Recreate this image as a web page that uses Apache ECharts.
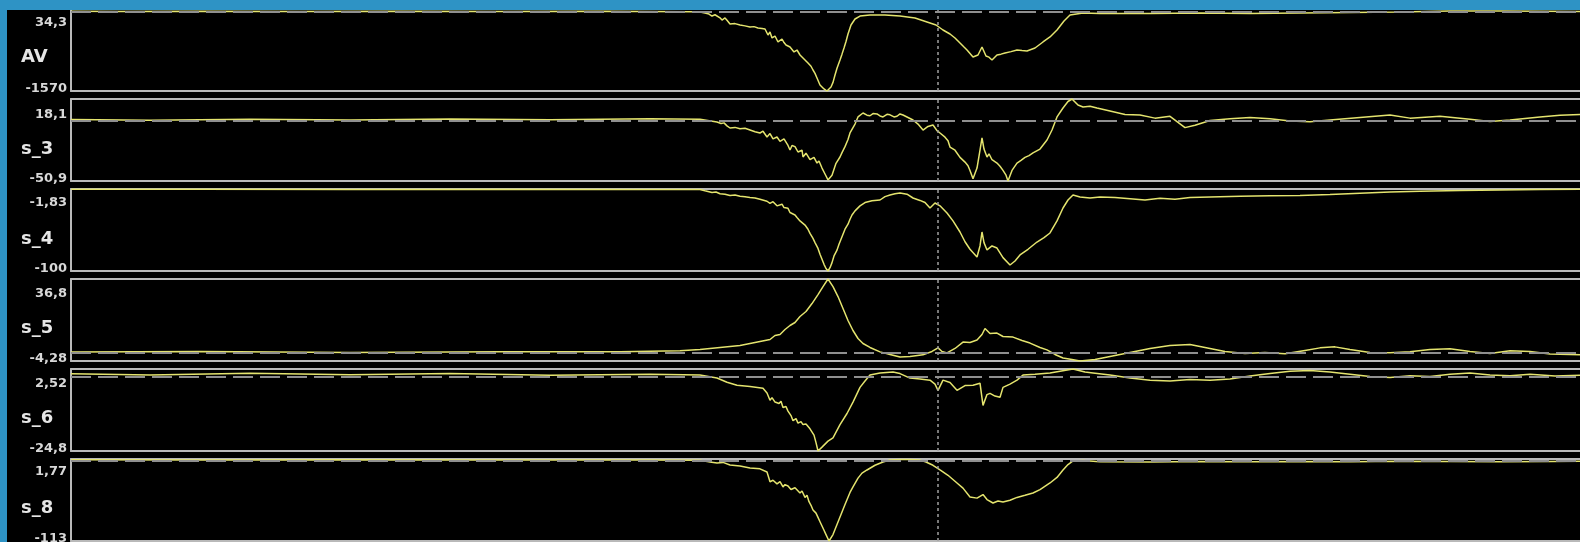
<!DOCTYPE html>
<html>
<head>
<meta charset="utf-8">
<script src="https://cdn.jsdelivr.net/npm/echarts@6/dist/echarts.min.js"></script>
<style>
  html, body { margin: 0; padding: 0; width: 1580px; height: 542px; overflow: hidden; background: #2e93c5; }
  #chart { position: absolute; left: 7px; top: 10px; width: 1573px; height: 532px; }
</style>
</head>
<body>
<div id="chart"></div>
<script>
// Channel names and the scale limits shown beside each strip
const channelNames = ['AV', 's_3', 's_4', 's_5', 's_6', 's_8'];
const maxTickLabels = ['34,3', '18,1', '-1,83', '36,8', '2,52', '1,77'];
const minTickLabels = ['-1570', '-50,9', '-100', '-4,28', '-24,8', '-113'];
const maxValues = [34.3, 18.1, -1.83, 36.8, 2.52, 1.77];
const minValues = [-1570, -50.9, -100, -4.28, -24.8, -113];

// Recording length (samples) and cursor position
const sampleCount = 1509;
const cursorSample = 867;

// Recorded traces: [sample, value]
const avData = [[0,8],[49,5],[129,10],[229,6],[329,12],[429,4],[529,9],[619,2],[629,-5],[634,-25],[638,-45],[641,-85],[644,-60],[646,-65],[649,-120],[651,-164],[654,-124],[656,-170],[659,-243],[664,-235],[669,-263],[674,-280],[679,-302],[683,-295],[687,-322],[691,-330],[694,-342],[697,-461],[699,-401],[701,-520],[704,-481],[707,-599],[709,-560],[711,-540],[713,-610],[715,-659],[717,-640],[719,-698],[721,-720],[723,-797],[726,-758],[729,-857],[732,-916],[734,-900],[737,-1015],[740,-1080],[742,-1154],[744,-1220],[746,-1312],[749,-1451],[751,-1490],[753,-1530],[756,-1570],[758,-1540],[760,-1491],[762,-1400],[764,-1253],[766,-1120],[769,-956],[771,-840],[773,-718],[775,-590],[777,-441],[780,-263],[784,-144],[789,-85],[799,-65],[814,-65],[829,-85],[844,-124],[859,-223],[865,-263],[872,-362],[879,-441],[884,-520],[889,-619],[893,-700],[896,-758],[902,-896],[907,-857],[911,-698],[915,-876],[918,-900],[921,-956],[926,-857],[930,-840],[934,-817],[940,-790],[946,-758],[951,-770],[956,-778],[964,-718],[972,-599],[979,-500],[986,-362],[993,-183],[999,-65],[1012,-25],[1029,-35],[1079,-35],[1129,-25],[1179,-35],[1229,-25],[1279,-15],[1329,-5],[1379,15],[1429,15],[1509,5]];

const s3Data = [[0,0.8],[79,0.3],[179,1.0],[279,0.5],[379,1.2],[479,0.6],[579,1.5],[629,1.0],[646,-1.3],[650,-2.5],[653,-2.0],[656,-4.5],[659,-6.3],[664,-5.8],[669,-7.0],[674,-6.5],[679,-8.0],[684,-9.5],[689,-10.5],[692,-9.0],[696,-13.9],[699,-11.0],[702,-15.5],[706,-13.9],[709,-17.5],[711,-18.0],[713,-15.5],[715,-16.0],[717,-21.0],[719,-24.8],[721,-21.0],[724,-22.0],[727,-26.5],[729,-28.0],[731,-25.0],[732,-30.7],[735,-27.5],[737,-29.0],[739,-33.0],[741,-33.5],[743,-31.0],[746,-35.8],[748,-34.0],[751,-40.0],[754,-45.0],[757,-50.0],[761,-46.0],[765,-36.0],[769,-30.7],[771,-27.0],[774,-22.0],[777,-16.0],[779,-10.5],[784,-3.0],[787,3.0],[792,6.3],[796,4.5],[799,4.0],[802,5.8],[806,5.5],[809,3.8],[812,3.0],[816,5.2],[819,4.8],[823,3.0],[826,3.6],[829,5.5],[832,4.6],[837,2.5],[842,0.4],[847,-3.0],[852,-8.0],[857,-5.0],[862,-3.8],[866,-8.5],[869,-10.5],[874,-14.0],[877,-17.0],[879,-22.3],[884,-25.0],[889,-31.0],[894,-35.0],[897,-38.0],[899,-42.0],[902,-49.0],[906,-40.0],[909,-25.0],[911,-14.7],[913,-24.0],[916,-30.7],[918,-28.0],[921,-33.0],[926,-35.8],[929,-38.5],[932,-42.0],[935,-46.0],[937,-50.9],[941,-42.0],[946,-35.8],[950,-33.5],[954,-31.0],[958,-29.5],[962,-27.3],[969,-24.0],[976,-16.4],[981,-8.0],[986,3.0],[992,10.5],[997,16.0],[1001,18.1],[1007,13.0],[1012,11.4],[1019,12.0],[1026,10.5],[1039,8.0],[1054,5.0],[1069,4.6],[1084,2.0],[1099,3.5],[1114,-6.0],[1124,-4.0],[1139,0.0],[1159,1.5],[1179,2.5],[1199,1.5],[1219,-0.5],[1239,-1.0],[1259,0.4],[1289,2.5],[1319,4.6],[1339,2.0],[1369,3.5],[1399,1.0],[1419,-0.8],[1439,0.5],[1469,3.0],[1489,4.5],[1509,5.0]];

const s4Data = [[0,-2.2],[129,-2.0],[279,-2.4],[429,-2.1],[579,-2.3],[629,-2.5],[634,-4.0],[641,-6.0],[645,-5.5],[649,-7.5],[654,-8.0],[659,-9.5],[664,-9.0],[669,-10.5],[674,-11.0],[679,-12.0],[684,-12.5],[689,-14.0],[696,-16.5],[699,-19.0],[702,-17.0],[706,-22.0],[708,-20.5],[711,-20.0],[713,-24.0],[715,-26.0],[717,-25.0],[719,-30.0],[721,-29.0],[724,-33.0],[726,-36.0],[729,-40.0],[731,-41.5],[734,-45.0],[737,-50.0],[739,-55.0],[742,-61.0],[744,-66.0],[747,-73.0],[749,-80.0],[751,-86.0],[753,-92.0],[755,-97.0],[757,-100],[759,-96.0],[761,-90.0],[763,-82.0],[766,-75.0],[768,-68.0],[770,-62.0],[772,-56.0],[774,-50.0],[777,-44.0],[779,-38.0],[781,-33.0],[784,-28.0],[789,-22.0],[794,-18.0],[801,-16.0],[809,-15.0],[814,-11.0],[819,-9.0],[824,-7.5],[829,-6.6],[836,-8.0],[842,-12.6],[849,-15.5],[854,-18.0],[859,-24.6],[864,-18.6],[869,-22.0],[876,-30.6],[882,-40.0],[889,-53.3],[894,-65.0],[899,-74.0],[906,-83.2],[909,-70.0],[911,-53.3],[913,-66.0],[916,-74.8],[921,-70.0],[926,-72.5],[932,-84.0],[939,-92.8],[944,-88.0],[949,-80.8],[957,-74.0],[966,-65.3],[973,-60.0],[979,-54.5],[986,-40.0],[992,-24.6],[997,-15.0],[1002,-9.0],[1009,-11.4],[1019,-12.6],[1029,-11.4],[1044,-12.0],[1059,-13.5],[1074,-15.0],[1089,-13.0],[1104,-14.0],[1119,-12.0],[1139,-11.4],[1169,-10.5],[1199,-10.0],[1229,-9.5],[1259,-8.5],[1289,-7.0],[1319,-5.5],[1349,-4.5],[1389,-3.5],[1429,-3.0],[1469,-2.5],[1509,-2.2]];

const s5Data = [[0,0.2],[129,0.5],[279,0.0],[429,0.4],[549,0.3],[609,0.8],[629,1.5],[649,2.5],[669,3.5],[689,5.5],[699,6.5],[704,8.5],[709,9.0],[714,11.5],[719,13.5],[724,15.0],[729,18.0],[735,20.5],[741,24.5],[747,29.0],[752,33.0],[757,36.8],[762,33.0],[767,28.0],[772,22.0],[777,16.0],[782,11.0],[787,7.0],[792,4.5],[799,2.5],[809,0.3],[819,-1.0],[829,-2.3],[839,-2.0],[852,-1.2],[861,0.5],[867,2.3],[871,0.5],[876,-0.2],[884,2.0],[892,5.2],[899,5.0],[906,6.2],[911,9.0],[914,12.0],[919,9.5],[926,9.7],[932,8.0],[942,7.7],[951,6.0],[959,4.7],[969,2.5],[976,1.3],[984,-1.0],[992,-2.8],[1001,-3.5],[1009,-4.28],[1024,-3.5],[1039,-2.0],[1059,0.0],[1079,2.0],[1099,3.5],[1119,4.0],[1134,2.5],[1154,0.5],[1174,-0.5],[1194,0.0],[1214,-0.7],[1234,1.0],[1249,2.3],[1264,2.8],[1279,1.5],[1299,0.0],[1319,-0.2],[1339,0.3],[1359,1.5],[1379,1.8],[1399,0.5],[1419,-0.5],[1439,0.8],[1459,0.5],[1479,-0.8],[1509,-1.2]];

const s6Data = [[0,0.9],[79,0.5],[179,1.1],[279,0.6],[379,1.0],[479,0.4],[579,0.8],[629,0.5],[646,-0.5],[656,-1.9],[666,-2.9],[679,-3.3],[692,-3.9],[696,-5.5],[699,-7.9],[701,-7.0],[704,-8.5],[706,-8.0],[708,-9.0],[710,-8.2],[712,-10.3],[715,-10.0],[717,-11.5],[720,-13.0],[722,-14.7],[725,-14.0],[727,-15.5],[730,-15.0],[732,-16.0],[735,-15.8],[739,-17.4],[741,-17.0],[743,-19.5],[745,-22.0],[747,-24.8],[751,-23.5],[757,-21.5],[762,-20.4],[769,-16.0],[776,-12.3],[782,-8.5],[789,-3.6],[794,-1.5],[799,0.5],[809,1.2],[822,1.5],[829,1.0],[839,-0.5],[849,-0.8],[859,-1.2],[864,-2.5],[867,-4.6],[872,-1.2],[879,-2.0],[886,-4.6],[894,-3.0],[902,-2.9],[909,-2.2],[912,-9.6],[916,-6.0],[919,-5.6],[924,-6.5],[929,-6.9],[932,-3.6],[939,-2.5],[946,-1.2],[952,0.5],[964,0.8],[979,1.2],[989,1.8],[1002,2.52],[1014,1.5],[1022,1.2],[1039,0.5],[1059,-0.5],[1079,-1.2],[1099,-1.5],[1119,-1.0],[1139,-1.2],[1159,-0.8],[1179,0.2],[1199,1.0],[1219,1.8],[1239,2.0],[1259,1.5],[1279,0.8],[1299,0.0],[1319,-0.3],[1339,0.3],[1359,0.0],[1379,0.8],[1399,1.2],[1419,0.5],[1439,0.3],[1459,0.8],[1484,0.2],[1509,0.4]];

const s8Data = [[0,0.6],[129,0.3],[279,0.8],[429,0.2],[579,0.5],[629,0.0],[639,-2.4],[646,-3.8],[652,-3.0],[659,-6.6],[669,-8.0],[679,-10.8],[689,-12.0],[696,-16.4],[699,-30.0],[702,-28.0],[706,-33.0],[709,-30.0],[712,-37.4],[714,-34.0],[717,-36.0],[720,-41.0],[722,-42.0],[724,-38.5],[726,-40.0],[729,-45.8],[731,-43.0],[734,-52.0],[736,-49.0],[738,-58.0],[740,-63.0],[742,-69.6],[745,-74.0],[747,-80.0],[749,-86.0],[751,-92.0],[753,-98.0],[755,-104.0],[758,-113],[762,-104.0],[766,-90.0],[769,-79.4],[774,-62.0],[779,-45.0],[782,-37.4],[787,-25.0],[791,-18.0],[796,-13.6],[804,-7.0],[812,-2.4],[819,0.4],[829,1.2],[839,1.0],[849,0.2],[855,-2.4],[862,-7.0],[869,-13.6],[877,-21.0],[886,-31.8],[892,-39.0],[899,-51.4],[906,-53.0],[912,-48.0],[916,-55.0],[922,-59.8],[927,-57.0],[932,-58.5],[939,-56.0],[946,-52.0],[954,-49.0],[962,-45.8],[969,-41.0],[979,-31.8],[986,-24.0],[992,-13.6],[997,-6.0],[1002,-1.0],[1012,-0.5],[1029,-2.0],[1079,-2.4],[1129,-1.8],[1179,-2.2],[1229,-1.6],[1279,-2.0],[1329,-1.5],[1379,-1.8],[1429,-2.2],[1479,-1.6],[1509,-1.4]];

const traces = [avData, s3Data, s4Data, s5Data, s6Data, s8Data];

// Strip layout inside the black panel
const stripTops = [0, 89, 179, 269, 359, 449];
const stripHeights = [81, 82, 82, 82, 82, 82];
const maxLabelOffsets = [13, 16, 14, 15, 15, 13];
const nameOffsets = [47, 50, 50, 49, 49, 49];
const plotLeft = 64;

const frameColor = '#b9b9b9';
const traceColor = '#e4e46e';
const labelFont = 'DejaVu Sans';

const grids = [], xAxes = [], yAxes = [], series = [], texts = [];

const baseAxis = {
  axisTick: { show: false },
  axisLabel: { show: false },
  splitLine: { show: false }
};

channelNames.forEach((name, i) => {
  grids.push({ left: plotLeft, right: 0, top: stripTops[i], height: stripHeights[i], containLabel: false });

  xAxes.push(Object.assign({}, baseAxis, {
    gridIndex: i, type: 'value', min: 0, max: sampleCount, position: 'bottom',
    axisLine: { show: true, onZero: false, lineStyle: { color: frameColor, width: 2 } }
  }));
  xAxes.push(Object.assign({}, baseAxis, {
    gridIndex: i, type: 'value', min: 0, max: sampleCount, position: 'top',
    axisLine: { show: i > 0, onZero: false, lineStyle: { color: frameColor, width: 2 } }
  }));
  yAxes.push(Object.assign({}, baseAxis, {
    gridIndex: i, type: 'value', min: minValues[i], max: maxValues[i], position: 'left',
    axisLine: { show: true, onZero: false, lineStyle: { color: frameColor, width: 2 } }
  }));

  const marks = [{ xAxis: cursorSample, lineStyle: { type: [3, 3], color: '#a0a0a0', width: 1.5 } }];
  if (minValues[i] < 0 && maxValues[i] > 0) {
    marks.push({ yAxis: 0, lineStyle: { type: [20, 7], color: '#8f8f8f', width: 2 } });
  }

  series.push({
    name: name,
    type: 'line',
    xAxisIndex: 2 * i,
    yAxisIndex: i,
    data: traces[i],
    symbol: 'none',
    showSymbol: false,
    lineStyle: { color: traceColor, width: 1.5 },
    clip: true,
    markLine: {
      silent: true,
      symbol: ['none', 'none'],
      label: { show: false },
      animation: false,
      data: marks
    }
  });

  const top = stripTops[i];
  const bottom = stripTops[i] + stripHeights[i];
  texts.push({
    type: 'text', x: 60, y: top + maxLabelOffsets[i],
    style: { text: maxTickLabels[i], fill: '#d8d8d8', fontFamily: labelFont, fontWeight: 'bold', fontSize: 13, align: 'right', verticalAlign: 'middle' }
  });
  texts.push({
    type: 'text', x: 60, y: bottom - 2,
    style: { text: minTickLabels[i], fill: '#d8d8d8', fontFamily: labelFont, fontWeight: 'bold', fontSize: 13, align: 'right', verticalAlign: 'middle' }
  });
  texts.push({
    type: 'text', x: 14, y: top + nameOffsets[i],
    style: { text: name, fill: '#e6e6e6', fontFamily: labelFont, fontWeight: 'bold', fontSize: 18, align: 'left', verticalAlign: 'middle' }
  });
});

const chart = echarts.init(document.getElementById('chart'), null, { renderer: 'canvas' });
chart.setOption({
  backgroundColor: '#000000',
  animation: false,
  grid: grids,
  xAxis: xAxes,
  yAxis: yAxes,
  series: series,
  graphic: { elements: texts }
});
</script>
</body>
</html>
